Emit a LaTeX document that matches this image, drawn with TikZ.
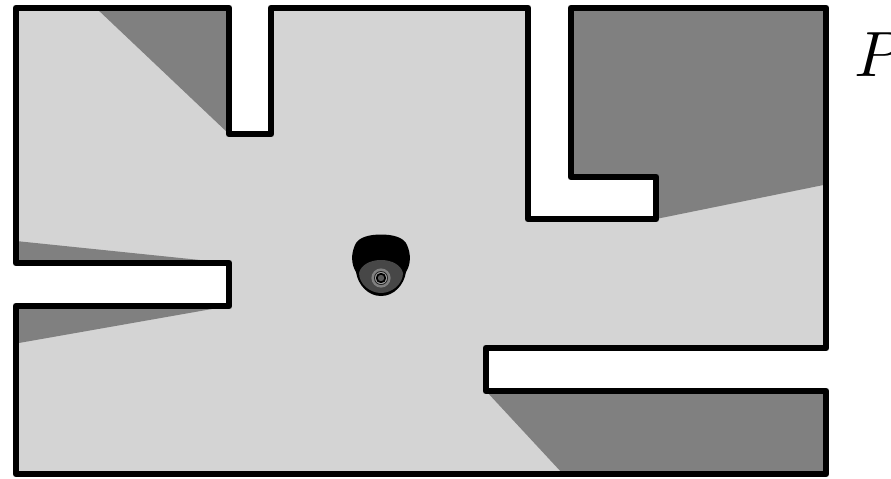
\documentclass[tikz,border=0pt]{standalone}
\tikzset{
  room/.style={fill=black!17},
  shade/.style={fill=black!50},
  wall/.style={draw=black,line width=5pt,line join=round}
}
\begin{document}
\begin{tikzpicture}[x=0.75pt,y=-0.75pt]
\useasboundingbox (0,0) rectangle (891,478);
\fill[white] (0,0) rectangle (891,478);
\def\roompath{(16,8) -- (229,8) -- (229,134) -- (271,134) -- (271,8) -- (528,8) -- (528,219) -- (656,219) -- (656,177) -- (571,177) -- (571,8) -- (826,8) -- (826,348) -- (486,348) -- (486,391) -- (826,391) -- (826,474) -- (16,474) -- (16,306) -- (229,306) -- (229,263) -- (16,263) -- cycle}
\fill[room] \roompath;
\fill[shade] (96,8) -- (229,8) -- (229,134) -- cycle;
\fill[shade] (571,8) -- (826,8) -- (826,184.5) -- (656,219) -- (656,177) -- (571,177) -- cycle;
\fill[shade] (16,241) -- (229,263) -- (16,263) -- cycle;
\fill[shade] (16,306) -- (229,306) -- (16,343.5) -- cycle;
\fill[shade] (486,391) -- (826,391) -- (826,474) -- (563,474) -- cycle;
\draw[wall] \roompath;
% camera
\fill[black] (381,234.5) .. controls (392,234.5) and (404,237) .. (407,245)
  .. controls (411,254) and (411,264) .. (406,272)
  .. controls (404,285) and (394,296) .. (381,296)
  .. controls (368,296) and (358,285) .. (356,272)
  .. controls (351,264) and (351,254) .. (355,245)
  .. controls (358,237) and (370,234.5) .. (381,234.5) -- cycle;
\fill[black!72] (381,260) .. controls (392,260) and (401,265) .. (403,273)
  .. controls (403,284) and (392,293) .. (381,293)
  .. controls (370,293) and (359,284) .. (359,273)
  .. controls (361,265) and (370,260) .. (381,260) -- cycle;
\fill[black!50] (381,278) circle (9.6);
\fill[black!85] (381,278) circle (7);
\fill[black!35] (381,278) circle (6);
\fill[black] (381,278) circle (5.2);
\fill[black!65] (381,278) circle (3.2);
\node[inner sep=0pt,anchor=base west,scale=4.8,font=\fontsize{10pt}{12pt}\selectfont] (label) at (853,76.7) {$P$};
\end{tikzpicture}
\end{document}
